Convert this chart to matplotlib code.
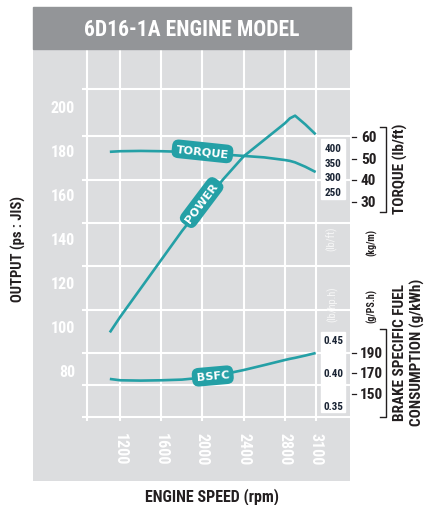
import matplotlib
matplotlib.use('Agg')
import matplotlib.pyplot as plt
from matplotlib import font_manager as fm
from matplotlib.patches import Rectangle
import matplotlib.transforms as mtransforms


def pick(fams):
    for f in fams:
        try:
            fm.findfont(fm.FontProperties(family=f, weight='bold'), fallback_to_default=False)
            return f
        except Exception:
            pass
    return 'DejaVu Sans'


COND = pick(['Liberation Sans Narrow', 'DejaVu Sans Condensed', 'Roboto Condensed', 'Liberation Sans'])
LBL = pick(['DejaVu Sans'])

# ---------------- data ----------------
rpm = [1100, 1200, 1400, 1600, 1800, 2000, 2200, 2400, 2600, 2800, 2850, 2900, 3000, 3100]
power_ps = [98, 105, 118, 131, 144, 156, 167.5, 178, 185.5, 193, 195.3, 196.5, 192.5, 188]
torque_nm = [387, 389, 390, 389, 387, 383, 378, 373, 368, 359, 356, 351, 336, 318]
bsfc_lb = [0.391, 0.389, 0.3885, 0.389, 0.390, 0.393, 0.398, 0.4045, 0.412, 0.4197, 0.4215, 0.423, 0.4265, 0.4303]

x_ticks = [1200, 1600, 2000, 2400, 2800, 3100]
output_ticks = [200, 180, 160, 140, 120, 100, 80]
torque_inner_ticks = [400, 350, 300, 250]
torque_outer_ticks = [60, 50, 40, 30]
bsfc_inner_ticks = ['0.45', '0.40', '0.35']
bsfc_outer_ticks = [190, 170, 150]

title = '6D16-1A ENGINE MODEL'

# ---------------- style ----------------
W, H = 428, 506
GRAY = '#dcdddf'
HEAD = '#939598'
TEAL = '#24a0a6'
NAVY = '#1b2535'
BLACK = '#231f20'

fig = plt.figure(figsize=(W / 100, H / 100), dpi=100)
fig.patch.set_facecolor('white')


def fx(px):
    return px / W


def fy(py):
    return 1 - py / H


# header band
fig.patches.append(Rectangle((fx(33), fy(50)), fx(351) - fx(33), fy(8) - fy(50),
                             transform=fig.transFigure, color=HEAD, zorder=0))
fig.text(fx(192), fy(30), title, color='white', fontsize=15.5, fontweight='bold',
         family=COND, ha='center', va='center')

# main panel
ax = fig.add_axes([fx(33), fy(482), fx(350) - fx(33), fy(50) - fy(482)])
ax.set_facecolor(GRAY)
for s in ax.spines.values():
    s.set_visible(False)
ax.set_xlim(353.3, 3433.7)
ax.set_ylim(30.45, 226.8)
ax.set_xticks([])
ax.set_yticks([])

# grid (white)
grid_x = [879] + x_ticks
grid_y = [208.6, 187.3, 167.3, 147.7, 128.2, 108.2, 88.6, 74.1, 59.5]
ax.vlines(grid_x, 57.7, 226.8, color='white', lw=1.5, zorder=1)
ax.hlines(grid_y, 829, 3433.7, color='white', lw=1.5, zorder=1)

# tick labels
bl = mtransforms.blended_transform_factory(ax.transAxes, ax.transData)
for v in output_ticks:
    ax.text(0.1325, v, str(v), transform=bl, ha='right', va='center', color='white',
            fontsize=11.5, fontweight='bold', family=COND)
bx = mtransforms.blended_transform_factory(ax.transData, ax.transAxes)
for v in x_ticks:
    ax.text(v, 0.1134, str(v), transform=bx, ha='center', va='top', rotation=270,
            color='white', fontsize=11.5, fontweight='bold', family=COND)

# power curve
ax.plot(rpm, power_ps, color=TEAL, lw=1.9, zorder=3, solid_capstyle='butt')

# torque axis (N.m scale)
ax_t = ax.twinx()
ax_t.set_ylim(-735.3, 737.5)
ax_t.axis('off')
ax_t.plot(rpm, torque_nm, color=TEAL, lw=1.9, zorder=3, solid_capstyle='butt')

# bsfc axis (lb/hp.h scale)
ax_b = ax.twinx()
ax_b.set_ylim(0.2364, 0.8909)
ax_b.axis('off')
ax_b.plot(rpm, bsfc_lb, color=TEAL, lw=1.9, zorder=3, solid_capstyle='butt')

# inner scale boxes
ax_t.add_patch(Rectangle((3152, 226), 3385 - 3152, 430.7 - 226, color='white', zorder=2, clip_on=False))
for v in torque_inner_ticks:
    ax_t.text(3271, v, str(v), ha='center', va='center', fontsize=8, fontweight='bold',
              color=NAVY, family=COND, zorder=4)
ax_b.add_patch(Rectangle((3152, 0.3409), 3385 - 3152, 0.4621 - 0.3409, color='white', zorder=2, clip_on=False))
for v in bsfc_inner_ticks:
    ax_b.text(3271, float(v), v, ha='center', va='center', fontsize=8, fontweight='bold',
              color=NAVY, family=COND, zorder=4)

# curve labels
box = dict(boxstyle='round,pad=0.38,rounding_size=0.6', fc=TEAL, ec='none')
ax_t.text(2000, 388.5, 'TORQUE', rotation=-6, ha='center', va='center', color='white',
          fontsize=8.2, fontweight='bold', family=LBL, bbox=box, zorder=5, rotation_mode='anchor')
ax.text(1992, 157, 'POWER', rotation=53, ha='center', va='center', color='white',
        fontsize=8.2, fontweight='bold', family=LBL, bbox=box, zorder=5, rotation_mode='anchor')
ax_b.text(2100, 0.3955, 'BSFC', rotation=5, ha='center', va='center', color='white',
          fontsize=8.2, fontweight='bold', family=LBL, bbox=box, zorder=5, rotation_mode='anchor')

# small unit labels inside the panel
ax.text((332 - 33) / 317, (482 - 239) / 432, '(lb/ft)', transform=ax.transAxes, rotation=90,
        ha='center', va='center', color='#f7f7f7', fontsize=7.5, family=COND, zorder=4)
ax.text((333 - 33) / 317, (482 - 304) / 432, '(lb/hp.h)', transform=ax.transAxes, rotation=90,
        ha='center', va='center', color='#f7f7f7', fontsize=7.5, family=COND, zorder=4)

# outer torque scale (lb/ft)
ax_o1 = fig.add_axes([fx(350), fy(482), fx(390) - fx(350), fy(50) - fy(482)])
ax_o1.set_xlim(0, 1)
ax_o1.set_ylim(-98.5, 100.55)
ax_o1.axis('off')
for v in torque_outer_ticks:
    ax_o1.plot([0.05, 0.15], [v, v], color=BLACK, lw=0.9)
    ax_o1.text(0.27, v, str(v), ha='left', va='center', fontsize=11, fontweight='bold',
               color=BLACK, family=COND)
ax_o1.plot([0.76, 0.9, 0.9, 0.76], [0.8194, 0.8194, 0.6227, 0.6227], transform=ax_o1.transAxes,
           color=BLACK, lw=1.0, clip_on=False)

# outer bsfc scale (g/kWh)
ax_o2 = fig.add_axes([fx(350), fy(482), fx(390) - fx(350), fy(50) - fy(482)])
ax_o2.set_xlim(0, 1)
ax_o2.set_ylim(65.1, 486.6)
ax_o2.axis('off')
for v in bsfc_outer_ticks:
    ax_o2.plot([0.05, 0.15], [v, v], color=BLACK, lw=0.9)
    ax_o2.text(0.25, v, str(v), ha='left', va='center', fontsize=11, fontweight='bold',
               color=BLACK, family=COND)
ax_o2.plot([0.76, 0.9, 0.9, 0.76], [0.3519, 0.3519, 0.1481, 0.1481], transform=ax_o2.transAxes,
           color=BLACK, lw=1.0, clip_on=False)

# small unit labels outside
fig.text(fx(372), fy(242), '(kg/m)', rotation=90, ha='center', va='center', fontsize=7.2,
         fontweight='bold', color=BLACK, family=COND)
fig.text(fx(372), fy(306), '(g/PS.h)', rotation=90, ha='center', va='center', fontsize=7.2,
         fontweight='bold', color=BLACK, family=COND)

# axis titles
fig.text(fx(18), fy(249), 'OUTPUT (ps : JIS)', rotation=90, ha='center', va='center',
         fontsize=10.5, fontweight='bold', color=BLACK, family=COND)
fig.text(fx(212), fy(497), 'ENGINE SPEED (rpm)', ha='center', va='center',
         fontsize=11.5, fontweight='bold', color=BLACK, family=COND)
fig.text(fx(400), fy(169), 'TORQUE (lb/ft)', rotation=90, ha='center', va='center',
         fontsize=11, fontweight='bold', color=BLACK, family=COND)
fig.text(fx(400), fy(353), 'BRAKE SPECIFIC FUEL', rotation=90, ha='center', va='center',
         fontsize=11, fontweight='bold', color=BLACK, family=COND)
fig.text(fx(417), fy(352), 'CONSUMPTION (g/kWh)', rotation=90, ha='center', va='center',
         fontsize=11, fontweight='bold', color=BLACK, family=COND)

fig.savefig('out.png', dpi=100, facecolor='white')
